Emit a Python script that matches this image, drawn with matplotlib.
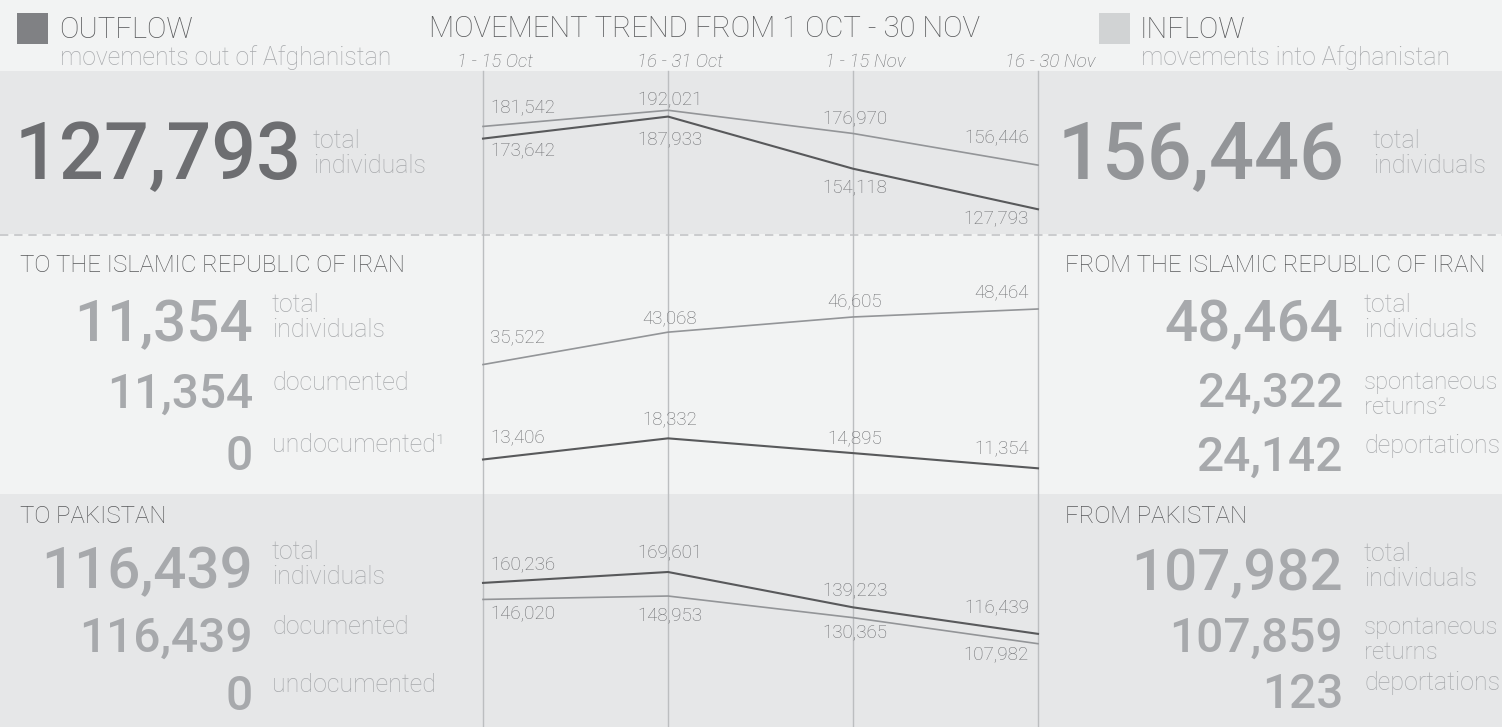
import matplotlib
matplotlib.use("Agg")
import matplotlib.pyplot as plt
from matplotlib.patches import Rectangle
from matplotlib.lines import Line2D

# ---- data ----
periods = ['1 - 15 Oct', '16 - 31 Oct', '1 - 15 Nov', '16 - 30 Nov']
total_out = [173642, 187933, 154118, 127793]
total_in = [181542, 192021, 176970, 156446]
iran_out = [13406, 18332, 14895, 11354]
iran_in = [35522, 43068, 46605, 48464]
pak_out = [160236, 169601, 139223, 116439]
pak_in = [146020, 148953, 130365, 107982]

out_total = 127793
in_total = 156446
out_iran = [11354, 11354, 0]
out_iran_lab = ['total\nindividuals', 'documented', 'undocumented\u00b9']
out_pak = [116439, 116439, 0]
out_pak_lab = ['total\nindividuals', 'documented', 'undocumented']
in_iran = [48464, 24322, 24142]
in_iran_lab = ['total\nindividuals', 'spontaneous\nreturns\u00b2', 'deportations']
in_pak = [107982, 107859, 123]
in_pak_lab = ['total\nindividuals', 'spontaneous\nreturns', 'deportations']

W, H = 1502, 727
BG = '#f2f3f3'
PANEL = '#e6e7e8'
DARK = '#58595b'
MID = '#6d6e71'
LIGHT = '#939598'
PALE = '#a7a9ac'
GRID = '#bcbec0'
FONT = 'Roboto'

fig = plt.figure(figsize=(W / 100, H / 100), dpi=100, facecolor=BG)

bg = fig.add_axes([0, 0, 1, 1])
bg.set_xlim(0, W)
bg.set_ylim(H, 0)
bg.axis('off')
bg.add_patch(Rectangle((0, 71), W, 163, color=PANEL, lw=0))
bg.add_patch(Rectangle((0, 494), W, 233, color=PANEL, lw=0))
bg.add_line(Line2D([0, W], [235, 235], color='#c4c5c7', lw=1.2, dashes=(5, 3.5)))


def txt(x, y, s, size, color, weight='light', ha='left', va='baseline', **kw):
    bg.text(x, y, s, fontsize=size, color=color, fontweight=weight, ha=ha, va=va,
            family=FONT, **kw)


# header
bg.add_patch(Rectangle((17, 13), 31, 31, color='#808184', lw=0))
bg.add_patch(Rectangle((1099, 13), 31, 31, color='#d1d3d4', lw=0))
txt(59, 38, 'OUTFLOW', 21, DARK)
txt(60, 65, 'movements out of Afghanistan', 17.8, PALE)
txt(1140, 38, 'INFLOW', 21, DARK)
txt(1141, 65, 'movements into Afghanistan', 17.8, PALE)
txt(429, 37, 'MOVEMENT TREND FROM 1 OCT - 30 NOV', 21.1, DARK)

# top totals
txt(15, 178, f'{out_total:,}', 57, MID, weight='medium')
txt(313, 148, 'total', 18, PALE)
txt(313, 173, 'individuals', 18, PALE)
txt(1058, 178, f'{in_total:,}', 57, LIGHT, weight='medium')
txt(1373, 148, 'total', 18, PALE)
txt(1373, 173, 'individuals', 18, PALE)

# section titles
txt(20, 272, 'TO THE ISLAMIC REPUBLIC OF IRAN', 17.3, DARK)
txt(20, 523, 'TO PAKISTAN', 17.3, DARK)
txt(1065, 272, 'FROM THE ISLAMIC REPUBLIC OF IRAN', 17.3, DARK)
txt(1065, 523, 'FROM PAKISTAN', 17.3, DARK)


def block(xr, xl, bases, vals, labs):
    for i, (b, v, lab) in enumerate(zip(bases, vals, labs)):
        size = 42 if i == 0 else 34.5
        txt(xr, b, f'{v:,}', size, PALE, weight='medium', ha='right')
        lines = lab.split('\n')
        top = b - (45 if i == 0 else 34)
        lsize = 17.2 if lines[0] == 'spontaneous' else 18
        for j, ln in enumerate(lines):
            txt(xl, top + 16 + j * 25, ln, lsize, PALE)


block(253, 272, [341, 408, 470], out_iran, out_iran_lab)
block(253, 272, [588, 652, 710], out_pak, out_pak_lab)
block(1343, 1364, [341, 407, 471], in_iran, in_iran_lab)
block(1343, 1364, [590, 652, 708], in_pak, in_pak_lab)


# ---- trend charts ----
X0, X1 = 483, 1038


def mk_axes(y0, y1):
    a = fig.add_axes([X0 / W, 1 - y1 / H, (X1 - X0) / W, (y1 - y0) / H])
    a.set_xlim(0, 3)
    a.axis('off')
    a.patch.set_alpha(0)
    return a


grid_ax = mk_axes(71, 727)
for i, p in enumerate(periods):
    grid_ax.axvline(i, color=GRID, lw=1, clip_on=False)
    grid_ax.annotate(p, xy=(i, 1), xycoords=('data', 'axes fraction'),
                     xytext=(12, 4), textcoords='offset pixels', ha='center',
                     va='baseline', fontsize=13.5, color=MID, style='italic',
                     family=FONT, fontweight='light')

sections = [
    ((71, 234), (111750, 217500),
     [(total_in, LIGHT, 1.2, [-18, -10, -14, -27]),
      (total_out, DARK, 1.5, [13, 24, 20, 10])]),
    ((235, 494), (5370, 65700),
     [(iran_in, LIGHT, 1.2, [-27, -14, -16, -17]),
      (iran_out, DARK, 1.5, [-21, -18, -14, -19])]),
    ((494, 727), (36394, 236634),
     [(pak_out, DARK, 1.5, [-18, -19, -16, -26]),
      (pak_in, LIGHT, 1.2, [15, 20, 16, 12])]),
]

xs = list(range(len(periods)))
for (y0, y1), ylim, series in sections:
    a = mk_axes(y0, y1)
    a.set_ylim(*ylim)
    for vals, col, lw, offs in series:
        a.plot(xs, vals, color=col, lw=lw, clip_on=False, solid_joinstyle='miter')
        for i, (v, dy) in enumerate(zip(vals, offs)):
            if i == 0:
                ha, dx = 'left', 7
            elif i == len(vals) - 1:
                ha, dx = 'right', -9
            else:
                ha, dx = 'center', 2
            a.annotate(f'{v:,}', xy=(i, v), xytext=(dx, -dy),
                       textcoords='offset pixels', ha=ha, va='center',
                       fontsize=13.5, color=MID, family=FONT, fontweight='light')

fig.savefig('out.png', dpi=100, facecolor=BG)
